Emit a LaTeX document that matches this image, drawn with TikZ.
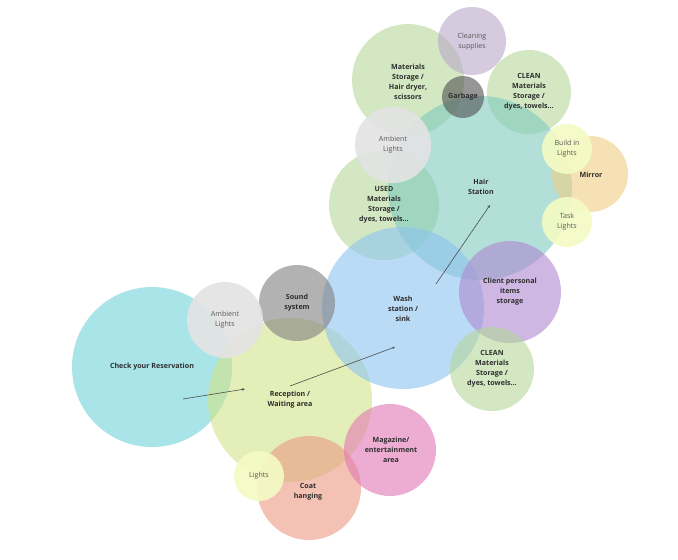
\documentclass[tikz,border=0pt]{standalone}
\usepackage{fontspec}
\setmainfont{Open Sans}
\usetikzlibrary{arrows.meta}
\definecolor{cResv}{HTML}{6ED3DA}
\definecolor{cRecep}{HTML}{D2E48A}
\definecolor{cGreen}{HTML}{B5D79A}
\definecolor{cTeal}{HTML}{7FCBBE}
\definecolor{cBlue}{HTML}{8CC4F0}
\definecolor{cPurp}{HTML}{AE88D0}
\definecolor{cLilac}{HTML}{BBA8CA}
\definecolor{cGarb}{HTML}{505050}
\definecolor{cAmb}{HTML}{E3E3E3}
\definecolor{cSound}{HTML}{808080}
\definecolor{cMirror}{HTML}{F0CE85}
\definecolor{cLight}{HTML}{F4FBC4}
\definecolor{cPink}{HTML}{E277B4}
\definecolor{cCoat}{HTML}{EC9A84}
\definecolor{cTxt}{HTML}{2E2E2E}
\tikzset{
  bubble/.style={circle, inner sep=0pt, fill opacity=0.6},
  lbl/.style={inner sep=0pt, align=center, text=cTxt,
    font=\fontsize{7.1}{10}\selectfont\bfseries},
  lightlbl/.style={lbl, font=\fontsize{7.1}{10}\selectfont, text=cTxt!80},
  flow/.style={draw=black!70, line width=0.6pt, -{Stealth[length=3pt,width=2.5pt]}}
}
\begin{document}
\begin{tikzpicture}[x=1pt,y=-1pt]
\useasboundingbox (0,0) rectangle (678,560);
\fill[white] (0,0) rectangle (678,560);
% circles (center, diameter)
\node[bubble, fill=cResv, minimum size=160pt] (resv) at (152,367) {};
\node[bubble, fill=cRecep, minimum size=164pt] (recep) at (290,400) {};
\node[bubble, fill=cGreen, minimum size=112pt] (matst) at (408,80) {};
\node[bubble, fill=cLilac, minimum size=68pt] (clean) at (472,41) {};
\node[bubble, fill=cGreen, minimum size=84pt] (cleantop) at (529,92) {};
\node[bubble, fill=cGreen, minimum size=110pt] (used) at (384,205) {};
\node[bubble, fill=cTeal, minimum size=184pt] (hair) at (480,188) {};
\node[bubble, fill=cBlue, minimum size=162pt] (wash) at (403,308) {};
\node[bubble, fill=cPurp, minimum size=102pt] (client) at (510,292) {};
\node[bubble, fill=cGreen, minimum size=84pt] (cleanbot) at (492,369) {};
\node[bubble, fill=cMirror, minimum size=76pt] (mirror) at (590,174) {};
\node[bubble, fill=cLight, fill opacity=0.92, minimum size=50pt] (build) at (567,149) {};
\node[bubble, fill=cLight, fill opacity=0.92, minimum size=50pt] (task) at (567,222) {};
\node[bubble, fill=cGarb, minimum size=42pt] (garb) at (463,97) {};
\node[bubble, fill=cAmb, fill opacity=0.92, minimum size=76pt] (ambtop) at (393,145) {};
\node[bubble, fill=cSound, minimum size=76pt] (sound) at (297,303) {};
\node[bubble, fill=cAmb, fill opacity=0.92, minimum size=76pt] (ambleft) at (225,320) {};
\node[bubble, fill=cCoat, minimum size=104pt] (coat) at (309,488) {};
\node[bubble, fill=cPink, minimum size=92pt] (mag) at (390,450) {};
\node[bubble, fill=cLight, fill opacity=0.92, minimum size=50pt] (lights) at (259,476) {};
% labels
\node[lbl] (resvlbl) at (152,367) {Check your Reservation};
\node[lbl] (receplbl) at (290,400) {Reception /\\Waiting area};
\node[lbl] (matstlbl) at (408,82) {Materials\\Storage /\\Hair dryer,\\scissors};
\node[lightlbl] (cleanlbl) at (472,42) {Cleaning\\supplies};
\node[lbl] (cleantoplbl) at (529,92) {CLEAN\\Materials\\Storage /\\dyes, towels...};
\node[lbl] (usedlbl) at (384,205) {USED\\Materials\\Storage /\\dyes, towels...};
\node[lbl] (hairlbl) at (481,187) {Hair\\Station};
\node[lbl] (washlbl) at (403,309) {Wash\\station /\\sink};
\node[lbl] (clientlbl) at (510,292) {Client personal\\items\\storage};
\node[lbl] (cleanbotlbl) at (492,369) {CLEAN\\Materials\\Storage /\\dyes, towels...};
\node[lbl] (mirrorlbl) at (591,175) {Mirror};
\node[lightlbl] (buildlbl) at (567,149) {Build in\\Lights};
\node[lightlbl] (tasklbl) at (567,222) {Task\\Lights};
\node[lbl] (garblbl) at (463,97) {Garbage};
\node[lightlbl] (ambtoplbl) at (393,145) {Ambient\\Lights};
\node[lbl] (soundlbl) at (297,303) {Sound\\system};
\node[lightlbl] (ambleftlbl) at (225,320) {Ambient\\Lights};
\node[lbl] (coatlbl) at (308,492) {Coat\\hanging};
\node[lbl] (maglbl) at (391,450) {Magazine/\\entertainment\\area};
\node[lightlbl] (lightslbl) at (259,476) {Lights};
% connectors
\coordinate (r1) at (183,399);
\coordinate (r2) at (245,389);
\coordinate (w1) at (290,386);
\coordinate (w2) at (395,347);
\coordinate (h1) at (436,284);
\coordinate (h2) at (490,205);
\draw[flow] (r1) -- (r2);
\draw[flow] (w1) -- (w2);
\draw[flow] (h1) -- (h2);
\end{tikzpicture}
\end{document}
